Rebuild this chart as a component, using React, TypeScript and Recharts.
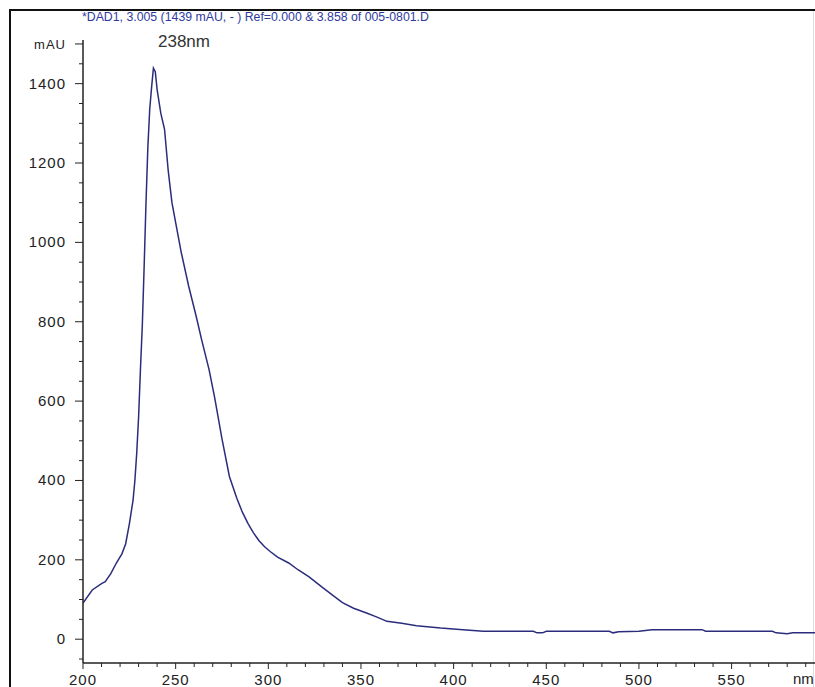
import React from 'react';
import { LineChart, Line, XAxis, YAxis } from 'recharts';

const wavelengths = [
  200, 205, 210, 212, 215, 218, 221, 223, 225, 227, 228, 229, 230, 231, 232, 233, 234, 235, 236, 237,
  238, 239, 240, 241, 242, 244, 246, 248, 250, 253, 257, 261, 264, 268, 271, 275, 279, 283, 286, 289,
  292, 295, 298, 301, 305, 311, 316, 322, 329, 335, 340, 346, 353, 358, 364, 372, 380, 393, 405, 416,
  443, 445, 448, 450, 484, 486, 489, 500, 507, 534, 536, 572, 574, 580, 583, 595,
];
const absorbance = [
  91, 124, 140, 145, 165, 192, 215, 240, 290, 350, 400, 470, 560, 680, 790, 940, 1100, 1240, 1335, 1390,
  1439, 1430, 1385, 1355, 1325, 1285, 1180, 1100, 1050, 975, 890, 815, 755, 680, 610, 505, 410, 355, 320, 292,
  268, 248, 233, 221, 207, 192, 175, 157, 131, 110, 92, 78, 66, 57, 45, 40, 34, 28, 24, 20,
  20, 16, 16, 20, 20, 16, 19, 20, 24, 24, 20, 20, 16, 14, 16, 16,
];

const xTicks = [
  200, 210, 220, 230, 240, 250, 260, 270, 280, 290, 300, 310, 320, 330, 340, 350, 360, 370, 380, 390,
  400, 410, 420, 430, 440, 450, 460, 470, 480, 490, 500, 510, 520, 530, 540, 550, 560, 570, 580, 590,
];
const xLabels = [200, 250, 300, 350, 400, 450, 500, 550];
const yTicks = [
  -50, 0, 50, 100, 150, 200, 250, 300, 350, 400, 450, 500, 550, 600, 650, 700, 750,
  800, 850, 900, 950, 1000, 1050, 1100, 1150, 1200, 1250, 1300, 1350, 1400, 1450, 1500,
];
const yLabels = [0, 200, 400, 600, 800, 1000, 1200, 1400];

const title = '*DAD1, 3.005 (1439 mAU, - ) Ref=0.000 & 3.858 of 005-0801.D';
const peakLabel = '238nm';
const xUnit = 'nm';
const yUnit = 'mAU';

const data = wavelengths.map((nm, i) => ({ nm, mau: absorbance[i] }));

const FONT = '"Liberation Sans", Arial, sans-serif';
const AXIS = '#222';

const XTick = ({ x, y, payload }: any) => {
  const major = xLabels.includes(payload.value);
  return (
    <g>
      <line x1={x} x2={x} y1={y} y2={y + (major ? 6 : 4)} stroke={AXIS} strokeWidth={1} />
      {major && (
        <text x={x} y={y + 22} textAnchor="middle" fontSize={15} fill="#222" fontFamily={FONT} letterSpacing={1}>
          {payload.value}
        </text>
      )}
    </g>
  );
};

const YTick = ({ x, y, payload }: any) => {
  const v = payload.value;
  const isUnit = v === 1500;
  const major = yLabels.includes(v) || isUnit;
  const label = isUnit ? yUnit : yLabels.includes(v) ? String(v) : '';
  return (
    <g>
      <line x1={x - (major ? 8 : 4)} x2={x} y1={y} y2={y} stroke={AXIS} strokeWidth={1} />
      {label && (
        <text
          x={x - 17}
          y={y + 5}
          textAnchor="end"
          fontSize={isUnit ? 13 : 15}
          fill="#222"
          fontFamily={FONT}
          letterSpacing={1}
        >
          {label}
        </text>
      )}
    </g>
  );
};

export default function App() {
  return (
    <div style={{ position: 'fixed', left: 0, top: 0, width: 815, height: 687, background: '#fff', overflow: 'hidden' }}>
      <div style={{ position: 'absolute', left: 9, top: 9, width: 806, height: 2, background: '#111' }} />
      <div style={{ position: 'absolute', left: 9, top: 9, width: 2, height: 678, background: '#111' }} />
      <div style={{ position: 'absolute', left: 813, top: 11, width: 1, height: 676, background: '#ddd' }} />
      <div
        style={{
          position: 'absolute',
          left: 82,
          top: 11,
          fontSize: 12.3,
          lineHeight: '13px',
          fontFamily: FONT,
          color: '#2f3aa0',
          whiteSpace: 'nowrap',
        }}
      >
        {title}
      </div>
      <div
        style={{
          position: 'absolute',
          left: 158,
          top: 32,
          fontSize: 17,
          lineHeight: '19px',
          fontFamily: FONT,
          color: '#333',
          whiteSpace: 'nowrap',
        }}
      >
        {peakLabel}
      </div>
      <div
        style={{
          position: 'absolute',
          left: 793,
          top: 670,
          fontSize: 15,
          lineHeight: '17px',
          fontFamily: FONT,
          color: '#222',
          whiteSpace: 'nowrap',
        }}
      >
        {xUnit}
      </div>
      <div style={{ position: 'absolute', left: 0, top: 0 }}>
        <LineChart width={815} height={687} data={data} margin={{ top: 40, right: 0, bottom: 0, left: 0 }}>
          <XAxis
            dataKey="nm"
            type="number"
            domain={[200, 595]}
            ticks={xTicks}
            interval={0}
            tickSize={0}
            tickMargin={0}
            tickLine={false}
            tick={<XTick />}
            axisLine={{ stroke: AXIS, strokeWidth: 1.5 }}
            height={24}
            allowDataOverflow
          />
          <YAxis
            type="number"
            domain={[-60, 1510]}
            ticks={yTicks}
            interval={0}
            tickSize={0}
            tickMargin={0}
            tickLine={false}
            tick={<YTick />}
            axisLine={{ stroke: AXIS, strokeWidth: 1.5 }}
            width={83}
            allowDataOverflow
          />
          <Line
            type="linear"
            dataKey="mau"
            stroke="#2b2d7c"
            strokeWidth={1.5}
            dot={false}
            isAnimationActive={false}
          />
        </LineChart>
      </div>
    </div>
  );
}
